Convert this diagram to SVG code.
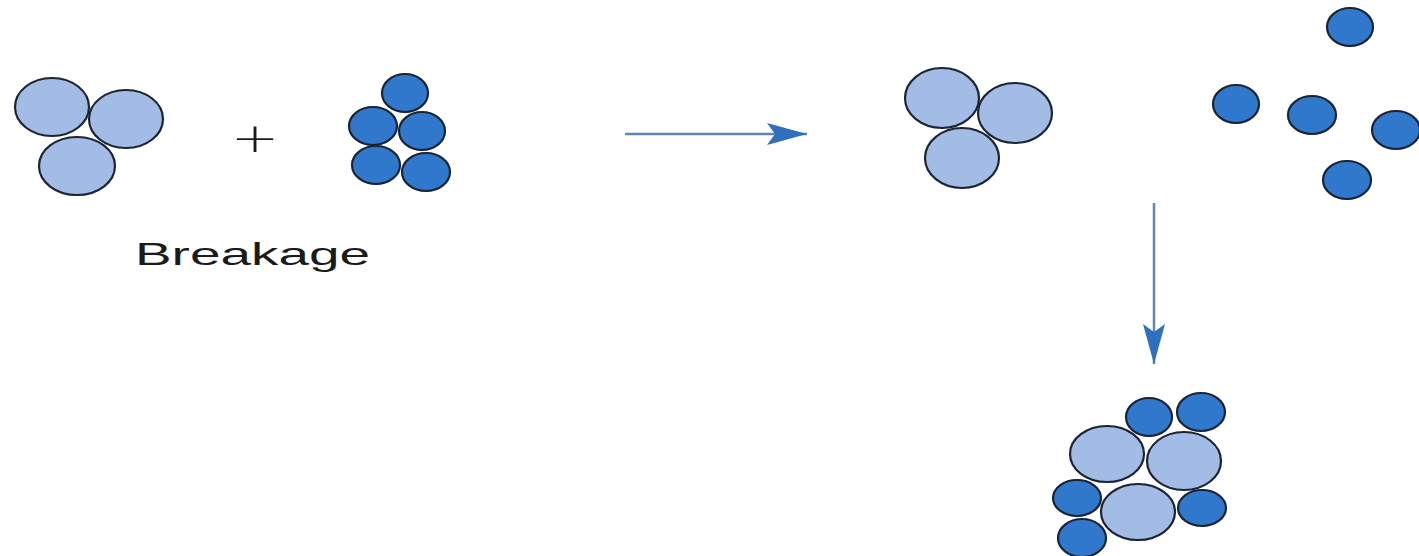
<svg xmlns="http://www.w3.org/2000/svg" width="1419" height="556" viewBox="0 0 1419 556">
<defs>
<style>
.lg{fill:#a3bce6;stroke:#1c2433;stroke-width:2.2}
.dk{fill:#2f78cc;stroke:#1a2333;stroke-width:2.2}
.ln{stroke:#5f86b8;stroke-width:2.5;fill:none}
.lbl{font-family:"Liberation Sans",Arial,sans-serif;font-size:32px;fill:#1a1a1a}
</style>
<marker id="ah" viewBox="0 0 40 22" refX="40" refY="11" markerWidth="40" markerHeight="22" markerUnits="userSpaceOnUse" orient="auto">
<path d="M0,0 L40,11 L0,22 L8,11 Z" fill="#2f6fc0"/>
</marker>
</defs>
<rect width="1419" height="556" fill="#ffffff"/>
<g id="reactant-light">
<ellipse class="lg" cx="52" cy="107" rx="37" ry="29"/>
<ellipse class="lg" cx="126" cy="119" rx="37" ry="29"/>
<ellipse class="lg" cx="77" cy="166" rx="38" ry="29"/>
</g>
<g id="plus">
<text transform="translate(255,152) scale(1.45,1)" text-anchor="middle" style="font-family:'DejaVu Sans',sans-serif;font-weight:200;font-size:40px;fill:#1a1a1a">+</text>
</g>
<g id="reactant-dark">
<ellipse class="dk" cx="405" cy="93" rx="23" ry="19"/>
<ellipse class="dk" cx="373" cy="126" rx="24" ry="19"/>
<ellipse class="dk" cx="422" cy="131" rx="23" ry="19"/>
<ellipse class="dk" cx="376" cy="165" rx="24" ry="19"/>
<ellipse class="dk" cx="426" cy="172" rx="24" ry="19"/>
</g>
<g id="label">
<text class="lbl" x="135" y="265" textLength="235" lengthAdjust="spacingAndGlyphs">Breakage</text>
</g>
<g id="product-light">
<ellipse class="lg" cx="942" cy="98" rx="37" ry="30"/>
<ellipse class="lg" cx="1015" cy="113" rx="37" ry="30"/>
<ellipse class="lg" cx="962" cy="158" rx="37" ry="30"/>
</g>
<g id="product-dark">
<ellipse class="dk" cx="1350" cy="27" rx="23" ry="19"/>
<ellipse class="dk" cx="1236" cy="104" rx="23" ry="19"/>
<ellipse class="dk" cx="1312" cy="115" rx="24" ry="19"/>
<ellipse class="dk" cx="1396" cy="130" rx="24" ry="19"/>
<ellipse class="dk" cx="1347" cy="180" rx="24" ry="19"/>
</g>
<g id="agglomerate">
<ellipse class="dk" cx="1149" cy="417" rx="23" ry="19"/>
<ellipse class="dk" cx="1201" cy="412" rx="24" ry="19"/>
<ellipse class="lg" cx="1107" cy="454" rx="37" ry="28"/>
<ellipse class="lg" cx="1184" cy="461" rx="37" ry="29"/>
<ellipse class="dk" cx="1077" cy="498" rx="24" ry="18"/>
<ellipse class="dk" cx="1202" cy="508" rx="24" ry="18"/>
<ellipse class="lg" cx="1138" cy="512" rx="37" ry="28"/>
<ellipse class="dk" cx="1082" cy="538" rx="24" ry="19"/>
</g>
<g id="connectors">
<line class="ln" x1="625" y1="134" x2="807" y2="134" marker-end="url(#ah)"/>
<line class="ln" x1="1154" y1="203" x2="1154" y2="364" marker-end="url(#ah)"/>
</g>
</svg>
